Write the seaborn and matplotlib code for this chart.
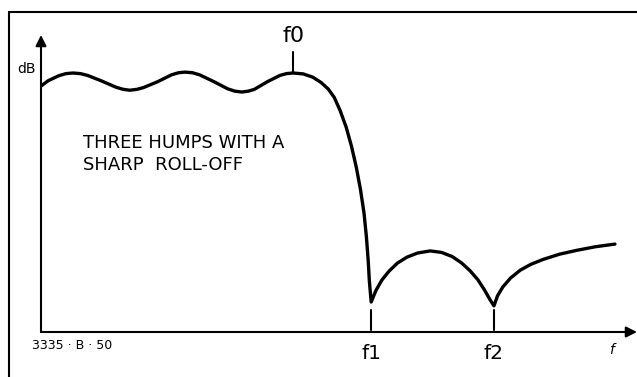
import matplotlib
matplotlib.use("Agg")
import matplotlib.pyplot as plt
import seaborn as sns
from matplotlib.lines import Line2D

# response curve (x: frequency, y: level, arbitrary units 0..10)
freq = [0.00, 0.12, 0.30, 0.42, 0.54, 0.66, 0.78, 1.02, 1.26, 1.38, 1.49,
        1.61, 1.72, 1.96, 2.19, 2.31, 2.42, 2.54, 2.66, 2.90, 3.13, 3.25,
        3.37, 3.48, 3.58, 3.80, 4.01, 4.12, 4.23,
        4.40, 4.56, 4.70, 4.82, 4.92, 5.02, 5.12, 5.21, 5.29, 5.36, 5.42,
        5.46, 5.49, 5.51, 5.54,
        5.62, 5.72, 5.84, 5.98, 6.14, 6.32, 6.53, 6.72, 6.90, 7.06, 7.20,
        7.33, 7.44, 7.53, 7.60,
        7.66, 7.75, 7.88, 8.04, 8.22, 8.42, 8.70, 8.99, 9.30, 9.63]
level = [8.28, 8.46, 8.63, 8.70, 8.72, 8.70, 8.64, 8.45, 8.24, 8.17, 8.14,
         8.17, 8.23, 8.43, 8.66, 8.73, 8.75, 8.73, 8.66, 8.43, 8.19, 8.11,
         8.08, 8.11, 8.17, 8.43, 8.64, 8.70, 8.72,
         8.69, 8.58, 8.40, 8.18, 7.90, 7.45, 6.90, 6.25, 5.55, 4.80, 4.00,
         3.20, 2.40, 1.70, 1.01,
         1.40, 1.75, 2.05, 2.32, 2.52, 2.66, 2.73, 2.68, 2.54, 2.32, 2.06,
         1.76, 1.42, 1.10, 0.88,
         1.22, 1.52, 1.82, 2.08, 2.28, 2.44, 2.62, 2.75, 2.87, 2.96]

marker_names = ["f0", "f1", "f2"]
marker_freq = [4.23, 5.54, 7.60]

sns.set_style("white")
plt.rcParams['font.family'] = ['DejaVu Sans']
plt.rcParams['text.color'] = 'black'

fig = plt.figure(figsize=(6.37, 3.77), dpi=100)
ax = fig.add_axes([41 / 637, 45 / 377, 596 / 637, 297 / 377])

sns.lineplot(x=freq, y=level, ax=ax, sort=False, color="black",
             linewidth=2.4, estimator=None, solid_joinstyle="round")

ax.set_xlim(0, 10)
ax.set_ylim(0, 10)
for s in ax.spines.values():
    s.set_visible(False)
ax.set_xticks([])
ax.set_yticks([])

# axes with arrow heads
arrow = dict(arrowstyle="-|>", color="black", lw=1.5, mutation_scale=16,
             shrinkA=0, shrinkB=0)
ax.annotate("", xy=(0, 10), xytext=(0, 0), arrowprops=arrow, annotation_clip=False)
ax.annotate("", xy=(10, 0), xytext=(0, 0), arrowprops=arrow, annotation_clip=False)

# frequency markers
ax.plot([marker_freq[0]] * 2, [8.75, 9.43], color="black", lw=1.5)
ax.text(marker_freq[0], 9.95, marker_names[0], ha="center", va="center", fontsize=16)
for name, f in zip(marker_names[1:], marker_freq[1:]):
    ax.plot([f, f], [0.07, 0.74], color="black", lw=1.5)
    ax.text(f, -0.71, name, ha="center", va="center", fontsize=14.5, clip_on=False)

ax.text(9.58, -0.6, "f", ha="center", va="center", fontsize=10,
        style="italic", clip_on=False)
ax.text(-0.08, 8.85, "dB", ha="right", va="center", fontsize=10)
ax.text(0.70, 6.0, "THREE HUMPS WITH A\nSHARP  ROLL-OFF", ha="left",
        va="center", fontsize=13, linespacing=1.3)
ax.text(-0.15, -0.44, "3335 · B · 50", ha="left", va="center", fontsize=9,
        clip_on=False)

# outer frame of the drawing (runs off right and bottom edges)
fig.add_artist(Line2D([9 / 637, 1.0], [1 - 12 / 377] * 2, color="black", lw=1.5))
fig.add_artist(Line2D([9 / 637] * 2, [0.0, 1 - 12 / 377], color="black", lw=1.5))

fig.savefig("out.png", dpi=100)
